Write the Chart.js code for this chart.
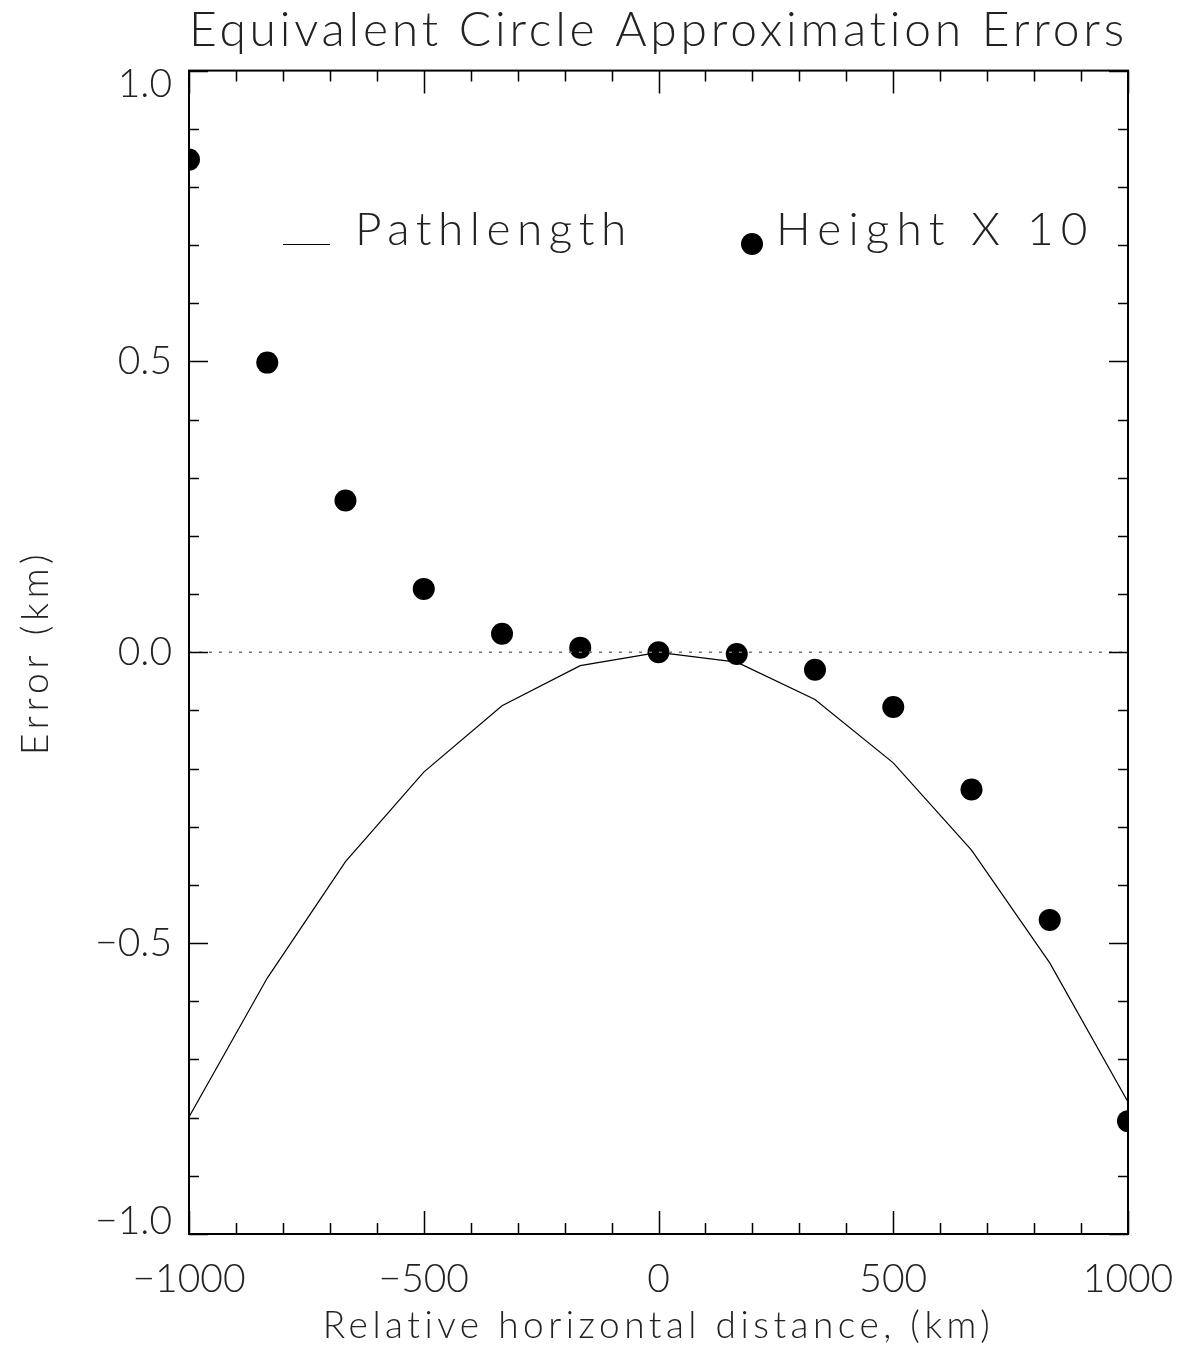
<!DOCTYPE html>
<html>
<head>
<meta charset="utf-8">
<title>Equivalent Circle Approximation Errors</title>
<script src="https://cdn.jsdelivr.net/npm/chart.js@4.4.1/dist/chart.umd.min.js"></script>
<style>
  body { margin: 0; background: #fff; }
  #wrap { width: 1188px; height: 1355px; }
</style>
</head>
<body>
<div id="wrap"><canvas id="chart" width="1188" height="1355"></canvas></div>
<script>
// x positions (km) shared by both series
const distance = [-1000, -833.3, -666.7, -500, -333.3, -166.7, 0, 166.7, 333.3, 500, 666.7, 833.3, 1000];
// pathlength error (solid line)
const pathErr = [-0.799, -0.560, -0.360, -0.206, -0.092, -0.023, 0, -0.017, -0.081, -0.190, -0.340, -0.534, -0.773];
// height error x 10 (dots)
const heightErr = [0.847, 0.498, 0.261, 0.109, 0.032, 0.008, 0, -0.003, -0.030, -0.094, -0.236, -0.460, -0.806];

const xTickValues = [-1000, -500, 0, 500, 1000];
const xTickLabels = ['\u22121000', '\u2212500', '0', '500', '1000'];
const yTickValues = [-1.0, -0.5, 0.0, 0.5, 1.0];
const yTickLabels = ['\u22121.0', '\u22120.5', '0.0', '0.5', '1.0'];
const xMinorStep = 100;
const yMinorStep = 0.1;

const FONT = 'Lato';
const INK = '#222';

// wrap a draw method so its text gets wider letter spacing (the original uses a wide vector font)
function spaced(obj, method, spacing) {
  if (!obj || obj['_sp_' + method]) return;
  const orig = obj[method];
  obj[method] = function (...args) {
    const ctx = this.ctx;
    ctx.save();
    ctx.letterSpacing = spacing;
    const r = orig.apply(this, args);
    ctx.restore();
    return r;
  };
  obj['_sp_' + method] = true;
}

const textTweaks = {
  id: 'textTweaks',
  afterLayout(chart) {
    spaced(chart.titleBlock, 'draw', '3.8px');
    spaced(chart.scales.x, 'drawTitle', '4.5px');
    spaced(chart.scales.y, 'drawTitle', '5px');
    // end labels of the y axis sit inside the frame, like the original
    const ys = chart.scales.y;
    if (ys && !ys._endShift && typeof ys._computeLabelItems === 'function') {
      const orig = ys._computeLabelItems;
      ys._computeLabelItems = function (...args) {
        const items = orig.apply(this, args);
        if (items.length) {
          items[0].options.translation[1] -= 13;
          items[items.length - 1].options.translation[1] += 14;
        }
        return items;
      };
      ys._endShift = true;
    }
  }
};

// IDL style frame: box with inward ticks on all four sides
const frameTicks = {
  id: 'frameTicks',
  afterDatasetsDraw(chart) {
    const { ctx, chartArea: a, scales } = chart;
    const xs = scales.x, ys = scales.y;
    ctx.save();
    ctx.strokeStyle = '#000';
    ctx.lineWidth = 1.5;
    ctx.beginPath();
    for (let v = -1000; v <= 1000.001; v += xMinorStep) {
      const major = xTickValues.some(t => Math.abs(t - v) < 1e-6);
      const len = major ? 23 : 11;
      const px = Math.round(xs.getPixelForValue(v)) + 0.5;
      ctx.moveTo(px, a.bottom); ctx.lineTo(px, a.bottom - len);
      ctx.moveTo(px, a.top); ctx.lineTo(px, a.top + len);
    }
    for (let i = -10; i <= 10; i++) {
      const v = i * yMinorStep;
      const major = yTickValues.some(t => Math.abs(t - v) < 1e-6);
      const len = major ? 19 : 10;
      const py = Math.round(ys.getPixelForValue(v)) + 0.5;
      ctx.moveTo(a.left, py); ctx.lineTo(a.left + len, py);
      ctx.moveTo(a.right, py); ctx.lineTo(a.right - len, py);
    }
    ctx.stroke();
    ctx.lineWidth = 2;
    ctx.strokeRect(a.left, a.top, a.right - a.left, a.bottom - a.top);
    ctx.restore();
  }
};

// legend written inside the plot, as in the original
const insideLegend = {
  id: 'insideLegend',
  afterDraw(chart) {
    const { ctx } = chart;
    ctx.save();
    ctx.fillStyle = INK;
    ctx.strokeStyle = '#000';
    ctx.font = '300 46px ' + FONT;
    ctx.textBaseline = 'alphabetic';
    ctx.lineWidth = 1.2;
    ctx.beginPath();
    ctx.moveTo(283, 244.5); ctx.lineTo(330, 244.5);
    ctx.stroke();
    ctx.letterSpacing = '6.5px';
    ctx.fillText('Pathlength', 355, 245);
    ctx.fillStyle = '#000';
    ctx.beginPath();
    ctx.arc(752, 244, 11, 0, Math.PI * 2);
    ctx.fill();
    ctx.fillStyle = INK;
    ctx.letterSpacing = '7.2px';
    ctx.fillText('Height X 10', 776, 245);
    ctx.restore();
  }
};

new Chart(document.getElementById('chart'), {
  type: 'scatter',
  data: {
    datasets: [
      {
        label: 'zero',
        data: [{ x: -1000, y: 0 }, { x: 1000, y: 0 }],
        showLine: true,
        borderColor: '#777',
        borderWidth: 1.5,
        borderDash: [3, 7],
        pointRadius: 0,
        clip: 0
      },
      {
        label: 'Pathlength',
        data: distance.map((d, i) => ({ x: d, y: pathErr[i] })),
        showLine: true,
        borderColor: '#000',
        borderWidth: 1.2,
        pointRadius: 0,
        tension: 0,
        clip: 0
      },
      {
        label: 'Height X 10',
        data: distance.map((d, i) => ({ x: d, y: heightErr[i] })),
        showLine: false,
        pointRadius: 11,
        pointBackgroundColor: '#000',
        pointBorderWidth: 0,
        clip: 0
      }
    ]
  },
  options: {
    responsive: false,
    animation: false,
    layout: { padding: { left: 0, right: 60, top: 0, bottom: 0 } },
    plugins: {
      legend: { display: false },
      tooltip: { enabled: false },
      title: {
        display: true,
        fullSize: false,
        text: 'Equivalent Circle Approximation Errors',
        color: INK,
        font: { family: FONT, size: 48, weight: 300 },
        padding: { top: 2, bottom: 11 }
      }
    },
    scales: {
      x: {
        type: 'linear',
        min: -1000,
        max: 1000,
        afterBuildTicks: s => { s.ticks = xTickValues.map(v => ({ value: v })); },
        afterFit: s => { s.height = 121; s.paddingLeft = 0; s.paddingRight = 0; },
        grid: { display: false, drawTicks: false },
        border: { display: false },
        ticks: {
          padding: 22,
          color: INK,
          font: { family: FONT, size: 39, weight: 300 },
          maxRotation: 0,
          callback: (v, i) => xTickLabels[i]
        },
        title: {
          display: true,
          text: 'Relative horizontal distance, (km)',
          color: INK,
          font: { family: FONT, size: 37, weight: 300 },
          padding: { top: 7, bottom: 7 }
        }
      },
      y: {
        type: 'linear',
        min: -1,
        max: 1,
        afterBuildTicks: s => { s.ticks = yTickValues.map(v => ({ value: v })); },
        afterFit: s => { s.width = 189; s.paddingTop = 0; s.paddingBottom = 0; },
        grid: { display: false, drawTicks: false },
        border: { display: false },
        ticks: {
          padding: 17,
          color: INK,
          font: { family: FONT, size: 39, weight: 300 },
          callback: (v, i) => yTickLabels[i]
        },
        title: {
          display: true,
          text: 'Error (km)',
          color: INK,
          font: { family: FONT, size: 37, weight: 300 },
          padding: { top: 14, bottom: 14 }
        }
      }
    }
  },
  plugins: [textTweaks, frameTicks, insideLegend]
});
</script>
</body>
</html>
